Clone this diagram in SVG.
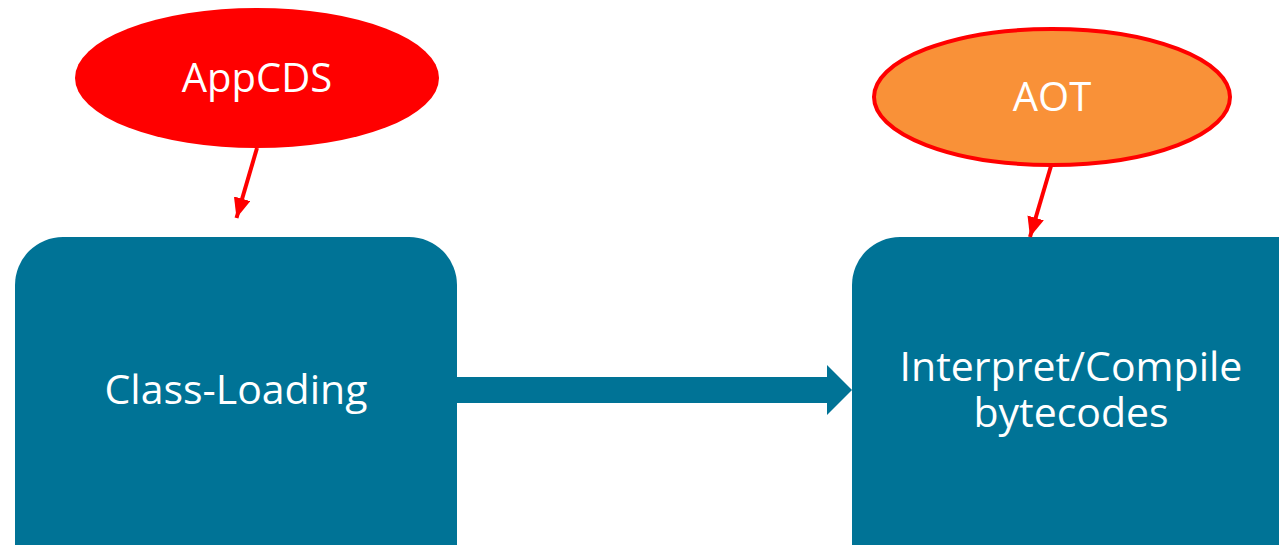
<svg xmlns="http://www.w3.org/2000/svg" width="1279" height="545" viewBox="0 0 1279 545">
<style>
.box{fill:#007396}
.lbl{font-family:"Open Sans","Liberation Sans",sans-serif;fill:#ffffff;text-anchor:middle}
.big{font-size:41px}
.red{stroke:#ff0000;stroke-width:4;fill:none}
</style>
<defs>
<marker id="rh" viewBox="0 0 10 10" refX="10" refY="5" markerWidth="20" markerHeight="17" markerUnits="userSpaceOnUse" orient="auto" preserveAspectRatio="none">
<path d="M0,0 L10,5 L0,10 Z" fill="#ff0000"/>
</marker>
</defs>
<rect width="1279" height="545" fill="#ffffff"/>
<g id="classloading">
<rect class="box" x="15" y="237" width="442" height="360" rx="48" ry="48"/>
<text class="lbl big" x="236" y="404">Class-Loading</text>
</g>
<g id="interpret">
<rect class="box" x="852" y="237" width="480" height="360" rx="48" ry="48"/>
<text class="lbl big" x="1071" y="381"><tspan x="1071" y="381">Interpret/Compile</tspan><tspan x="1071" y="427">bytecodes</tspan></text>
</g>
<g id="appcds">
<ellipse cx="257" cy="78" rx="182" ry="70" fill="#ff0000"/>
<text class="lbl" x="257" y="92" font-size="40">AppCDS</text>
</g>
<g id="aot">
<ellipse cx="1052" cy="97" rx="178" ry="68" fill="#f99138" stroke="#ff0000" stroke-width="4"/>
<text class="lbl" x="1052" y="111" font-size="40">AOT</text>
</g>
<g id="connectors">
<polygon points="457,377 827,377 827,365 852,390 827,415 827,403 457,403" fill="#007396"/>
<line class="red" x1="257" y1="148" x2="236.5" y2="218" marker-end="url(#rh)"/>
<line class="red" x1="1051" y1="166" x2="1030" y2="237" marker-end="url(#rh)"/>
</g>
</svg>
